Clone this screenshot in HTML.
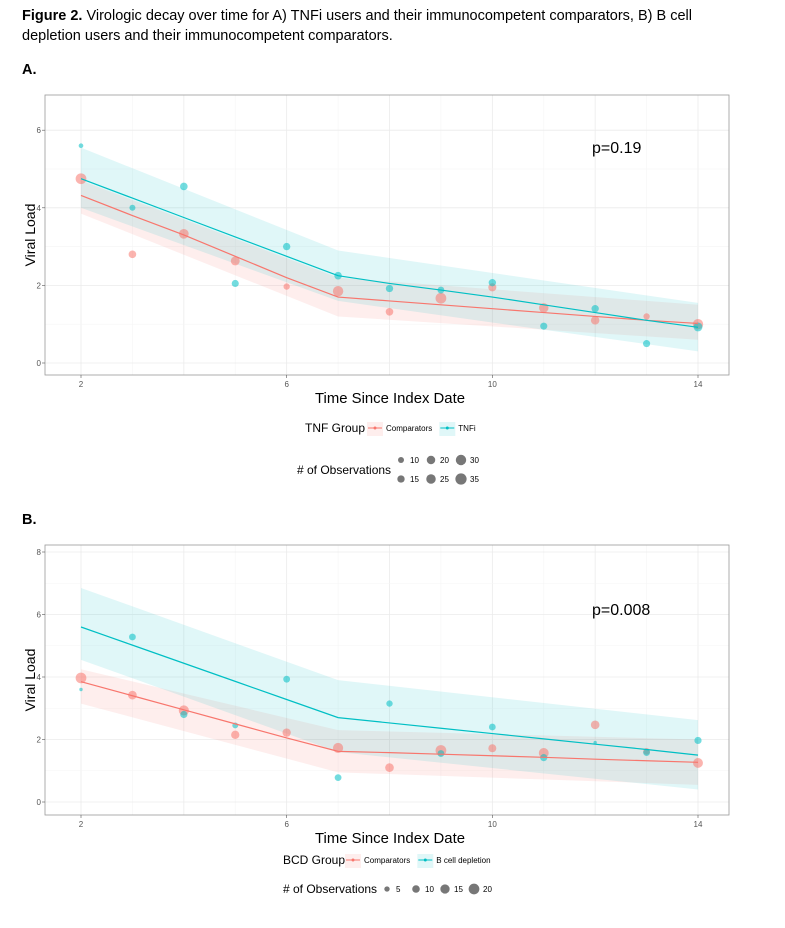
<!DOCTYPE html>
<html><head><meta charset="utf-8"><style>
body{margin:0;background:#fff;}
svg{display:block;font-family:"Liberation Sans",Arial,sans-serif;}
</style></head><body>
<svg id="fig" width="785" height="928" viewBox="0 0 785 928" xmlns="http://www.w3.org/2000/svg">
<text x="22" y="20" font-size="14.5" fill="#000"><tspan font-weight="bold">Figure 2.</tspan> Virologic decay over time for A) TNFi users and their immunocompetent comparators, B) B cell</text>
<text x="22" y="40" font-size="14.5" fill="#000">depletion users and their immunocompetent comparators.</text>
<text x="22" y="74" font-size="14.5" font-weight="bold">A.</text>
<text x="22" y="524" font-size="14.5" font-weight="bold">B.</text>
<g id="pa"></g>
<g id="pb"></g>
</svg>
<script>
// ---- Panel A data ----
const xs = [2,3,4,5,6,7,8,9,10,11,12,13,14];
const aTnfFit = [4.75,4.25,3.75,3.25,2.75,2.25,2.05,1.88,1.7,1.5,1.3,1.1,0.92];
const aCompFit = [4.32,3.8,3.3,2.75,2.2,1.7,1.6,1.5,1.4,1.3,1.2,1.1,1.02];
const knots = [2,7,14];
const aTnfUpper = [5.55,2.9,1.55];
const aTnfLower = [4.0,1.6,0.3];
const aCompUpper = [4.7,2.2,1.5];
const aCompLower = [3.85,1.2,0.6];
const aTnfPts = [5.6,4.0,4.55,2.05,3.0,2.25,1.92,1.88,2.07,0.95,1.4,0.5,0.93];
const aTnfN = [6,10,16,14,15,16,15,13,15,14,15,14,22];
const aCompPts = [4.75,2.8,3.33,2.63,1.97,1.85,1.32,1.67,1.95,1.42,1.1,1.2,1.0];
const aCompN = [32,16,26,22,11,30,16,32,18,25,20,11,30];
const aSizeLegend = [10,15,20,25,30,35];
// ---- Panel B data ----
const bBcdFit = [5.6,5.02,4.44,3.86,3.28,2.7,2.53,2.36,2.19,2.02,1.85,1.68,1.5];
const bCompFit = [3.85,3.4,2.95,2.5,2.05,1.62,1.58,1.53,1.48,1.43,1.37,1.32,1.27];
const bBcdUpper = [6.85,3.9,2.62];
const bBcdLower = [4.55,1.6,0.4];
const bCompUpper = [4.25,2.3,2.0];
const bCompLower = [3.15,0.95,0.55];
const bBcdPts = [3.6,5.28,2.8,2.45,3.93,0.78,3.15,1.55,2.4,1.42,1.9,1.58,1.97];
const bBcdN = [2,8,9,6,8,8,7,8,8,9,2,8,9];
const bCompPts = [3.97,3.42,2.93,2.15,2.22,1.73,1.1,1.65,1.72,1.57,2.47,1.62,1.25];
const bCompN = [20,13,18,12,12,18,13,20,11,17,13,8,17];
const bSizeLegend = [5,10,15,20];
const xTicks = [2,6,10,14];
const aYTicks = [0,2,4,6];
const bYTicks = [0,2,4,6,8];

const NS="http://www.w3.org/2000/svg";
const RED="#F8766D", CY="#00BFC4";
function mk(parent,tag,attrs,text){const e=document.createElementNS(NS,tag);for(const k in attrs)e.setAttribute(k,attrs[k]);if(text!==undefined)e.textContent=text;parent.appendChild(e);return e;}

function panel(g,cfg){
  const L=45,R=729,T=cfg.top,B=cfg.bottom;
  const sx=v=>81+(v-2)*(698-81)/12;
  const sy=v=>cfg.yZero - v*cfg.yUnit;
  for(let v=2;v<=14;v+=1){const major=(v%2===0);const l=mk(g,'line',{x1:sx(v),x2:sx(v),y1:T,y2:B,stroke:major?'#ebebeb':'#f5f5f5','stroke-width':major?0.8:0.6});
    
    }
  for(let v=0;v<=cfg.ymax;v+=1){const l=mk(g,'line',{x1:L,x2:R,y1:sy(v),y2:sy(v),stroke:v%2?'#f5f5f5':'#ebebeb','stroke-width':v%2?0.6:0.8});
    
    }
  function band(up,lo,col,name){
    let d='M'+knots.map((k,i)=>sx(k)+','+sy(up[i])).join('L')+'L'+knots.slice().reverse().map((k,i)=>sx(k)+','+sy(lo[knots.length-1-i])).join('L')+'Z';
    const p=mk(g,'path',{d:d,fill:col,'fill-opacity':0.12});
    
    
  }
  band(cfg.compUp,cfg.compLo,RED,'comparators-confidence-band');
  band(cfg.grpUp,cfg.grpLo,CY,cfg.grpKey+'-confidence-band');
  function pts(vals,ns,col,name){vals.forEach((v,i)=>{const c=mk(g,'circle',{cx:sx(xs[i]),cy:sy(v),r:cfg.rad(ns[i]),fill:col,'fill-opacity':0.55});
    
    });}
  pts(cfg.compPts,cfg.compN,RED,'comparators-point');
  pts(cfg.grpPts,cfg.grpN,CY,cfg.grpKey+'-point');
  function line(vals,col,name){const p=mk(g,'polyline',{points:vals.map((v,i)=>sx(xs[i])+','+sy(v)).join(' '),fill:'none',stroke:col,'stroke-width':1.2});
    
    }
  line(cfg.compFit,RED,'comparators-fit-line');
  line(cfg.grpFit,CY,cfg.grpKey+'-fit-line');
  const r=mk(g,'rect',{x:L,y:T,width:R-L,height:B-T,fill:'none',stroke:'#999','stroke-width':0.8});
  
  
  xTicks.forEach(v=>{mk(g,'line',{x1:sx(v),x2:sx(v),y1:B,y2:B+3,stroke:'#555','stroke-width':0.6});
    const t=mk(g,'text',{x:sx(v),y:B+12,'font-size':8,fill:'#555','text-anchor':'middle'},String(v));
    
    });
  cfg.yTicks.forEach(v=>{mk(g,'line',{x1:L-3,x2:L,y1:sy(v),y2:sy(v),stroke:'#555','stroke-width':0.6});
    const t=mk(g,'text',{x:L-4,y:sy(v)+3,'font-size':8,fill:'#555','text-anchor':'end'},String(v));
    
    });
  const xt=mk(g,'text',{x:390,y:B+28,'font-size':15,'text-anchor':'middle',textLength:150,lengthAdjust:'spacingAndGlyphs'},'Time Since Index Date');
  
  
  const cy=(T+B)/2;
  const yt=mk(g,'text',{x:35,y:cy,'font-size':14,'text-anchor':'middle',transform:'rotate(-90 35 '+cy+')'},'Viral Load');
  
  
  const pv=mk(g,'text',{x:cfg.pX,y:cfg.pY,'font-size':16},cfg.pText);
  
  
  const lg=cfg.legY;
  const gt=mk(g,'text',{x:cfg.legX,y:lg,'font-size':12},cfg.groupTitle);
  
  
  let lx=cfg.legX+cfg.titleW;
  [[RED,'Comparators','legend-entry-comparators'],[CY,cfg.grpLabel,'legend-entry-'+cfg.grpKey]].forEach(([c,lab,nm])=>{
    const eg=mk(g,'g',{});
    
    
    mk(eg,'rect',{x:lx,y:lg-10,width:16,height:14,fill:c,'fill-opacity':0.12});
    mk(eg,'line',{x1:lx+1,x2:lx+15,y1:lg-4,y2:lg-4,stroke:c,'stroke-width':1});
    mk(eg,'circle',{cx:lx+8,cy:lg-4,r:1.5,fill:c});
    mk(eg,'text',{x:lx+19,y:lg-1,'font-size':8},lab);
    lx+=19+lab.length*4.3+6;
  });
  const ot=mk(g,'text',{x:cfg.legX-cfg.obsDx,y:cfg.obsY,'font-size':12},'# of Observations');
  
  
  cfg.sizeLegend.forEach((n,i)=>{
    const pos=cfg.sizePos(i);
    const eg=mk(g,'g',{});
    
    
    mk(eg,'circle',{cx:pos[0],cy:pos[1],r:cfg.rad(n),fill:'#555','fill-opacity':0.8});
    mk(eg,'text',{x:pos[0]+9,y:pos[1]+3,'font-size':8},String(n));
  });
}
panel(document.getElementById('pa'),{top:95,bottom:375,yZero:363,yUnit:38.8,ymax:6,yTicks:aYTicks,
  compUp:aCompUpper,compLo:aCompLower,grpUp:aTnfUpper,grpLo:aTnfLower,
  compPts:aCompPts,compN:aCompN,grpPts:aTnfPts,grpN:aTnfN,compFit:aCompFit,grpFit:aTnfFit,
  grpKey:'tnfi',grpLabel:'TNFi',groupTitle:'TNF Group',titleW:62,legX:305,legY:432,
  rad:n=>Math.sqrt(n)*0.95,pX:592,pY:153,pText:'p=0.19',
  obsDx:8,obsY:474,sizeLegend:aSizeLegend,sizePos:i=>[401+Math.floor(i/2)*30,460+(i%2)*19]});
panel(document.getElementById('pb'),{top:545,bottom:815,yZero:802,yUnit:31.25,ymax:8,yTicks:bYTicks,
  compUp:bCompUpper,compLo:bCompLower,grpUp:bBcdUpper,grpLo:bBcdLower,
  compPts:bCompPts,compN:bCompN,grpPts:bBcdPts,grpN:bBcdN,compFit:bCompFit,grpFit:bBcdFit,
  grpKey:'b-cell-depletion',grpLabel:'B cell depletion',groupTitle:'BCD Group',titleW:62,legX:283,legY:864,
  rad:n=>Math.sqrt(n)*1.2,pX:592,pY:615,pText:'p=0.008',
  obsDx:0,obsY:893,sizeLegend:bSizeLegend,sizePos:i=>[387+i*29,889]});
</script>
</body></html>
